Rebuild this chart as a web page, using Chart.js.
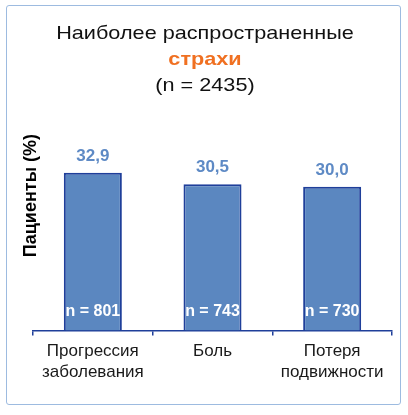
<!DOCTYPE html>
<html>
<head>
<meta charset="utf-8">
<script src="https://cdn.jsdelivr.net/npm/chart.js@4.4.1/dist/chart.umd.min.js"></script>
<style>
    html, body { margin: 0; padding: 0; background: #fff; }
    body { width: 408px; height: 415px; position: relative; overflow: hidden; font-family: Arial, "Liberation Sans", sans-serif; }
    #frame { position: absolute; left: 6px; top: 5px; width: 393px; height: 398px; border: 1.5px solid #9dbbe0; border-radius: 3px; }
    #title { position: absolute; left: 0; top: 20px; width: 410px; text-align: center; font-size: 19px; line-height: 26px; color: #111; }
    #title div { transform: scaleX(1.14); }
    #title .hl { color: #f07021; font-weight: bold; }
    canvas { position: absolute; left: 0; top: 0; }
</style>
</head>
<body>
<div id="frame"></div>
<canvas id="chart" width="408" height="415"></canvas>
<div id="title">
    <div>Наиболее распространенные</div>
    <div class="hl">страхи</div>
    <div>(n = 2435)</div>
</div>
<script>
// ── Data ─────────────────────────────────────────
const categories = [['Прогрессия', 'заболевания'], ['Боль'], ['Потеря', 'подвижности']];
const percents = [32.9, 30.5, 30.0];
const counts = [801, 743, 730];
const Y_MAX = 41;

const FONT = 'Arial, "Liberation Sans", sans-serif';
const NAVY = '#1f3f9a';

// value above each bar + "n = ..." inside at the bottom
const barLabels = {
    id: 'barLabels',
    afterDatasetsDraw(chart) {
        const ctx = chart.ctx;
        const meta = chart.getDatasetMeta(0);
        const yZero = chart.scales.y.getPixelForValue(0);
        ctx.save();
        ctx.textAlign = 'center';
        ctx.textBaseline = 'alphabetic';
        meta.data.forEach((bar, i) => {
            ctx.font = `bold 17px ${FONT}`;
            ctx.fillStyle = '#5e8ac5';
            ctx.fillText(percents[i].toFixed(1).replace('.', ','), bar.x, bar.y - 12);
            ctx.font = `bold 16px ${FONT}`;
            ctx.fillStyle = '#ffffff';
            ctx.fillText('n = ' + counts[i], bar.x, yZero - 15);
        });
        ctx.restore();
    }
};

new Chart(document.getElementById('chart'), {
    type: 'bar',
    data: {
        labels: categories,
        datasets: [{
            data: percents,
            backgroundColor: '#5b87c0',
            borderColor: NAVY,
            borderWidth: 2,
            borderSkipped: 'bottom',
            categoryPercentage: 1,
            barPercentage: 0.485
        }]
    },
    options: {
        responsive: false,
        animation: false,
        layout: { padding: { left: 22, right: 16, top: 134, bottom: 27 } },
        plugins: { legend: { display: false }, tooltip: { enabled: false } },
        scales: {
            x: {
                grid: { offset: true, drawOnChartArea: false, tickLength: 5, color: NAVY, lineWidth: 1.5 },
                border: { display: true, color: NAVY, width: 1.5 },
                ticks: { color: '#1a1a1a', padding: 5, maxRotation: 0, autoSkip: false,
                         font: { family: FONT, size: 17, lineHeight: 1.25 } }
            },
            y: {
                min: 0, max: Y_MAX,
                grid: { display: false },
                border: { display: false },
                ticks: { display: false },
                title: { display: true, text: 'Пациенты (%)', align: 'end', color: '#000', padding: 0,
                         font: { family: FONT, size: 18, weight: 'bold', lineHeight: 1 } },
                afterFit(scale) { scale.width = 11; }
            }
        }
    },
    plugins: [barLabels]
});
</script>
</body>
</html>
